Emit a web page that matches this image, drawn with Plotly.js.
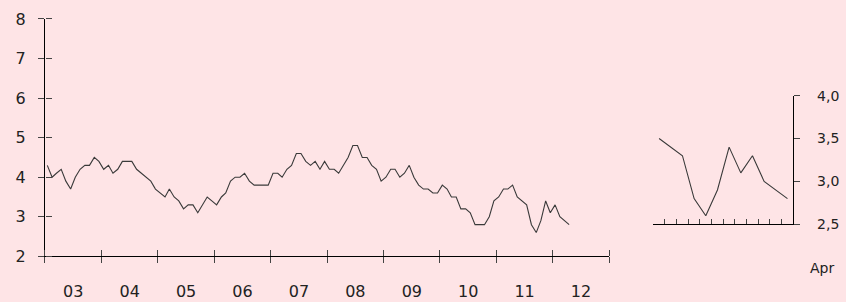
<!DOCTYPE html>
<html><head><meta charset="utf-8">
<script src="https://cdn.plot.ly/plotly-3.0.1.min.js"></script>
<style>html,body{margin:0;padding:0;background:#FEE4E6}</style>
</head><body><div id="chart" style="width:846px;height:302px"></div>
<script>
const startYear = 2003;
const rate = [
 4.3,4.0,4.1,4.2,3.9,3.7,4.0,4.2,4.3,4.3,4.5,4.4,
 4.2,4.3,4.1,4.2,4.4,4.4,4.4,4.2,4.1,4.0,3.9,3.7,
 3.6,3.5,3.7,3.5,3.4,3.2,3.3,3.3,3.1,3.3,3.5,3.4,
 3.3,3.5,3.6,3.9,4.0,4.0,4.1,3.9,3.8,3.8,3.8,3.8,
 4.1,4.1,4.0,4.2,4.3,4.6,4.6,4.4,4.3,4.4,4.2,4.4,
 4.2,4.2,4.1,4.3,4.5,4.8,4.8,4.5,4.5,4.3,4.2,3.9,
 4.0,4.2,4.2,4.0,4.1,4.3,4.0,3.8,3.7,3.7,3.6,3.6,
 3.8,3.7,3.5,3.5,3.2,3.2,3.1,2.8,2.8,2.8,3.0,3.4,
 3.5,3.7,3.7,3.8,3.5,3.4,3.3,2.8,2.6,2.9,3.4,3.1,
 3.3,3.0,2.9,2.8
];
const insetLabels = ['May','Jun','Jul','Aug','Sep','Oct','Nov','Dec','Jan','Feb','Mar','Apr'];
const insetValues = [3.5,3.4,3.3,2.8,2.6,2.9,3.4,3.1,3.3,3.0,2.9,2.8];

const dates = rate.map((v,i)=>{
  const y = startYear + Math.floor(i/12), m = i%12 + 1;
  return y + '-' + String(m).padStart(2,'0') + '-16';
});

const lineColor = '#3a3a3a';
const traces = [
  {x: dates, y: rate, type:'scatter', mode:'lines', xaxis:'x', yaxis:'y',
   line:{color:lineColor, width:1.1}, hoverinfo:'skip'},
  {x: dates, y: rate, type:'scatter', mode:'lines', xaxis:'x3', yaxis:'y3',
   line:{color:'rgba(0,0,0,0)', width:0}, hoverinfo:'skip'},
  {x: insetLabels, y: insetValues, type:'scatter', mode:'lines', xaxis:'x2', yaxis:'y2',
   line:{color:lineColor, width:1.1}, hoverinfo:'skip'}
];

const xRange = ['2003-01-01','2013-01-01'];
const xDom = [0.05319,0.72021], yDom = [0.1513,0.9371];
const layout = {
  width:846, height:302,
  margin:{l:0,r:0,t:0,b:0},
  paper_bgcolor:'#FEE4E6', plot_bgcolor:'rgba(0,0,0,0)',
  showlegend:false, separators:',.',
  font:{family:'DejaVu Sans, sans-serif', color:'#222', size:15},
  xaxis:{type:'date', domain:xDom, range:xRange, dtick:'M12', tick0:'2003-01-01',
    tickformat:'%y', ticklabelmode:'period', ticks:'outside', ticklen:6, tickcolor:'#444',
    showline:true, linecolor:'#000', linewidth:1, showgrid:false, zeroline:false, anchor:'y',
    tickfont:{size:16}, ticklabelstandoff:14},
  xaxis3:{type:'date', overlaying:'x', anchor:'free', position:yDom[0], side:'top',
    range:xRange, dtick:'M12', tick0:'2003-01-01',
    ticks:'outside', ticklen:6, tickcolor:'#444', tickwidth:1, showticklabels:false, showgrid:false,
    zeroline:false, showline:false},
  yaxis:{domain:yDom, range:[2,8], dtick:1, ticks:'outside', ticklen:6, tickcolor:'#444',
    showline:true, linecolor:'#000', linewidth:1, showgrid:false, zeroline:false, anchor:'x',
    tickfont:{size:16}, ticklabelstandoff:9},
  yaxis3:{overlaying:'y', anchor:'free', position:xDom[0], side:'right', range:[2,8], dtick:1,
    ticks:'outside', ticklen:6, tickcolor:'#444', tickwidth:1,
    showticklabels:false, showgrid:false, zeroline:false, showline:false},
  xaxis2:{domain:[0.7722,0.9377], anchor:'y2', type:'category', tickson:'boundaries', dtick:1,
    ticks:'inside', ticklen:5, tickcolor:'#444', showticklabels:false, showline:true,
    linecolor:'#000', showgrid:false, range:[-0.5,11.5]},
  yaxis2:{domain:[0.2573,0.6831], anchor:'x2', side:'right', range:[2.5,4.0], dtick:0.5,
    tickformat:'.1f', ticks:'outside', ticklen:6, tickcolor:'#444', showline:true, linecolor:'#000',
    showgrid:false, zeroline:false, tickfont:{size:14}, ticklabelstandoff:14},
  annotations:[{text: insetLabels[insetLabels.length-1], xref:'paper', yref:'paper',
    x:822/846, y:1-268/302, showarrow:false, font:{size:14}, xanchor:'center', yanchor:'middle'}]
};
Plotly.newPlot('chart', traces, layout, {staticPlot:true, displayModeBar:false});
</script></body></html>
